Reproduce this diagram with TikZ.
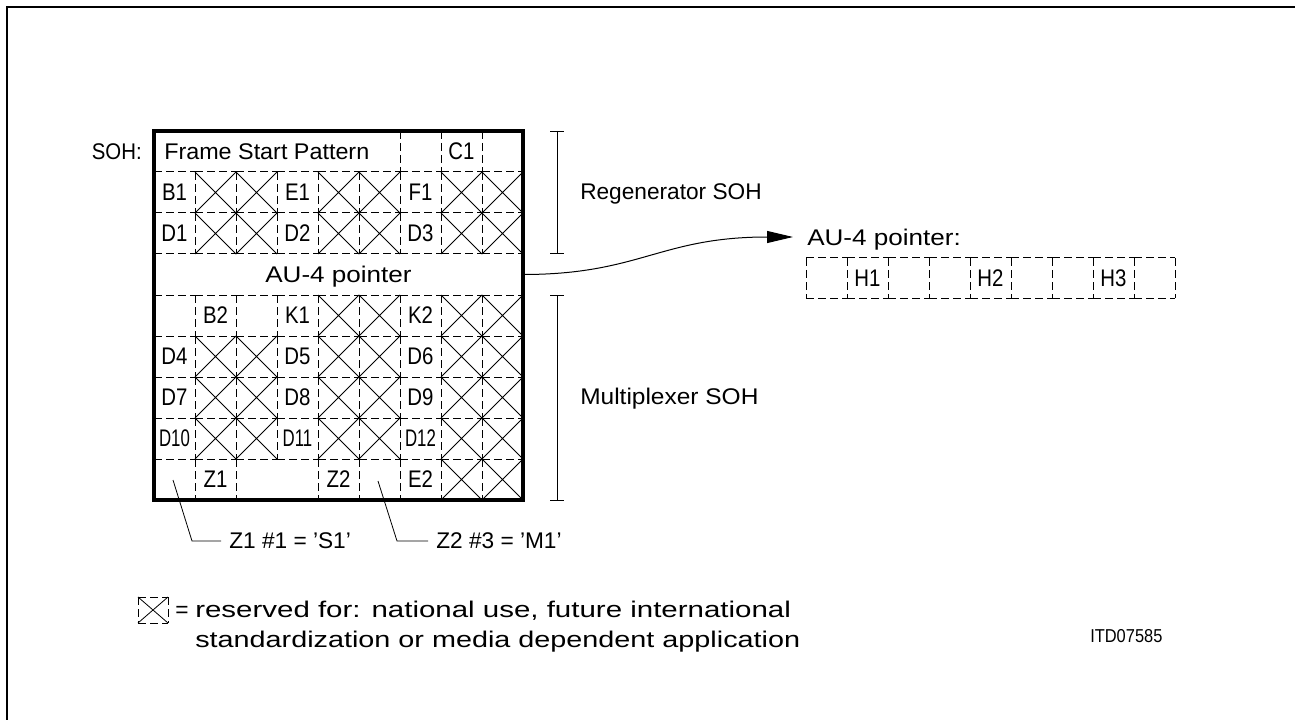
\documentclass[tikz,border=0pt]{standalone}
\usepackage{fontspec}
\setmainfont{Liberation Sans}
\usetikzlibrary{arrows.meta}
\newcommand{\hs}[2]{\scalebox{#1}[1]{#2}}
\begin{document}
\begin{tikzpicture}[x=0.75pt,y=-0.75pt,
  lbl/.style={inner sep=0pt, font=\fontsize{17}{22}\selectfont, text height=11.7pt, text depth=0pt},
  cell/.style={inner sep=0pt, font=\fontsize{18}{22}\selectfont, text height=12.4pt, text depth=0pt},
  dsh/.style={line width=0.75pt, dash pattern=on 6pt off 3pt},
  thinline/.style={line width=0.6pt},
  frameline/.style={line width=0.9pt},
  boxline/.style={line width=3pt},
  arr/.style={line width=0.75pt, -{Triangle[length=19.5pt,width=9pt]}}
]
\useasboundingbox (0,0) rectangle (1295,720);
% outer frame (top and left visible)
\draw[frameline] (7,720) -- (7,7) -- (1295,7);

% ---- SOH grid ----
\coordinate (boxnw) at (154,131);
\coordinate (boxse) at (523,500);
% horizontal dashed lines
\foreach \r in {1,...,8} {
  \foreach \i in {0,...,8} {
    \draw[dsh] ({154+41*\i},{131+41*\r}) -- ++(41,0);
  }
}
% vertical dashed lines per row
\foreach \r/\ks in {1/{6,7,8},2/{1,2,3,4,5,6,7,8},3/{1,2,3,4,5,6,7,8},
                    5/{1,2,3,4,5,6,7,8},6/{1,2,3,4,5,6,7,8},7/{1,2,3,4,5,6,7,8},
                    8/{1,2,3,4,5,6,7,8},9/{1,2,4,5,6,7,8}} {
  \foreach \k in \ks {
    \draw[dsh] ({154+41*\k},{131+41*(\r-1)}) -- ++(0,41);
  }
}
% crossed (reserved) cells
\foreach \r/\cs in {2/{2,3,5,6,8,9},3/{2,3,5,6,8,9},5/{5,6,8,9},6/{2,3,5,6,8,9},
                    7/{2,3,5,6,8,9},8/{2,3,5,6,8,9},9/{8,9}} {
  \foreach \c in \cs {
    \draw[thinline] ({154+41*(\c-1)},{131+41*(\r-1)}) -- ++(41,41) ++(-41,0) -- ++(41,-41);
  }
}
\draw[boxline] (boxnw) rectangle (boxse);

% cell labels
\node[lbl, anchor=west] (fsp) at (164,151.5) {\hs{1.03}{Frame Start Pattern}};
\foreach \t/\c/\r in {C1/8/1,B1/1/2,E1/4/2,F1/7/2,D1/1/3,D2/4/3,D3/7/3,
                      B2/2/5,K1/4/5,K2/7/5,D4/1/6,D5/4/6,D6/7/6,D7/1/7,D8/4/7,D9/7/7,
                      Z1/2/9,Z2/5/9,E2/7/9} {
  \node[cell] (cell-\t) at ({133.5+41*\c},{110.5+41*\r}) {\hs{0.85}{\t}};
}
\foreach \t/\c/\r in {D10/1/8,D11/4/8,D12/7/8} {
  \node[cell] (cell-\t) at ({133.5+41*\c},{110.5+41*\r}) {\hs{0.7}{\t}};
}
\node[lbl] (aurow) at (338.5,274.5) {\hs{1.15}{AU-4 pointer}};
\node[lbl, anchor=east] (soh) at (142,151.5) {\hs{0.9}{SOH:}};

% brackets
\draw[thinline] (550,131) -- (564,131) (557,131) -- (557,253) (550,253) -- (564,253);
\draw[thinline] (550,295) -- (564,295) (557,295) -- (557,500) (550,500) -- (564,500);
\node[lbl, anchor=west] (regen) at (580,192) {Regenerator SOH};
\node[lbl, anchor=west] (mux) at (580,397) {\hs{1.08}{Multiplexer SOH}};

% AU-4 pointer detail
\coordinate (austart) at (523,274.5);
\coordinate (autip) at (793,237);
\draw[arr] (austart) .. controls (640,274.5) and (660,237) .. (autip);
\node[lbl, anchor=west] (aulabel) at (807,238) {\hs{1.15}{AU-4 pointer:}};
\foreach \i in {0,...,8} {
  \draw[dsh] ({806+41*\i},258) -- ++(41,0);
  \draw[dsh] ({806+41*\i},298) -- ++(41,0);
}
\foreach \i in {0,...,9} {
  \draw[dsh] ({806+41*\i},258) -- ++(0,40);
}
\node[cell] (h1) at (867.5,278) {\hs{0.85}{H1}};
\node[cell] (h2) at (990.5,278) {\hs{0.85}{H2}};
\node[cell] (h3) at (1113.5,278) {\hs{0.85}{H3}};

% Z1 / Z2 notes
\coordinate (z1a) at (173,480);
\coordinate (z1b) at (192,541);
\coordinate (z2a) at (378,481);
\coordinate (z2b) at (397,541);
\node[lbl, anchor=west] (z1note) at (229,541) {Z1 \#1 = ’S1’};
\node[lbl, anchor=west] (z2note) at (436,541) {Z2 \#3 = ’M1’};
\draw[thinline, shorten >=6pt] (z1a) -- (z1b) -- (z1note.west);
\draw[thinline, shorten >=6pt] (z2a) -- (z2b) -- (z2note.west);

% legend
\draw[dsh] (138,597) -- (168,597) (138,623) -- (168,623) (138,597) -- (138,623) (168,597) -- (168,623);
\draw[thinline] (138,597) -- (168,623) (168,597) -- (138,623);
\node[lbl, anchor=west] (eq) at (175,610) {=};
\node[lbl, anchor=west] (leg1) at (195,610) {\hs{1.3}{reserved for: national use, future international}};
\node[lbl, anchor=west] (leg2) at (195,640) {\hs{1.27}{standardization or media dependent application}};

\node[lbl, anchor=west, font=\fontsize{14}{16}\selectfont, text height=9.6pt] (itd) at (1090,636) {\hs{0.88}{ITD07585}};
\end{tikzpicture}
\end{document}
